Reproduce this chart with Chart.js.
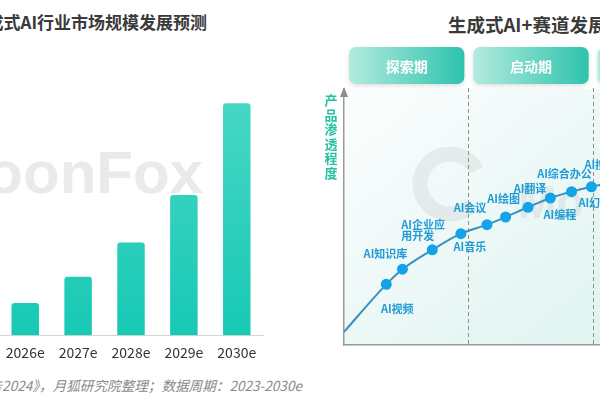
<!DOCTYPE html>
<html>
<head>
<meta charset="utf-8">
<script src="https://cdn.jsdelivr.net/npm/chart.js@4.4.1/dist/chart.umd.min.js"></script>
<style>
  html, body { margin: 0; padding: 0; background: #fff; }
  #page { position: relative; width: 600px; height: 400px; overflow: hidden;
    font-family: "Noto Sans CJK SC", "Noto Sans", sans-serif; }
  .title { position: absolute; white-space: nowrap; font-weight: bold;
    line-height: 22px; color: #3a3a3a; }
  #leftTitle { right: 393px; top: 11px; font-size: 17px; }
  #rightTitle { left: 448px; top: 13px; font-size: 18.5px; }
  #source { position: absolute; right: 298px; top: 376px; white-space: nowrap;
    font-size: 13.6px; line-height: 18px; font-style: italic; color: #8a8a8a; }
  #mark { position: absolute; right: 397px; top: 143px; font: bold 60px/60px "Liberation Sans", sans-serif;
    color: #eaeaea; white-space: nowrap; }
  canvas { position: absolute; }
  #barChart { left: -3px; top: 80px; }
  #trackChart { left: 300px; top: 0; }
</style>
</head>
<body>
<div id="page">
  <div id="leftTitle" class="title">生成式AI行业市场规模发展预测</div>
  <div id="rightTitle" class="title">生成式AI+赛道发展阶段</div>
  <div id="mark">MoonFox</div>
  <canvas id="barChart" width="268" height="290"></canvas>
  <canvas id="trackChart" width="450" height="360"></canvas>
  <div id="source">来源：《中国生成式AI行业研究报告2024》，月狐研究院整理；数据周期：2023-2030e</div>
</div>
<script>
  // left: market size forecast (visible years only)
  const years = ['2026e', '2027e', '2028e', '2029e', '2030e']
  const marketSize = [139, 252, 400, 604, 1000]

  // right: track development curve
  const stages = ['探索期', '启动期', '成长期']
  const stageBounds = [1, 2]
  const progress = [0, 0.34, 0.47, 0.71, 0.94, 1.15, 1.30, 1.48, 1.66, 1.83, 1.99, 2.20]
  const penetration = [0.51, 2.37, 2.96, 3.72, 4.35, 4.70, 5.00, 5.38, 5.74, 5.99, 6.18, 6.38]
  const trackNames = ['AI视频', 'AI知识库', 'AI企业应\n用开发', 'AI音乐', 'AI会议', 'AI绘图',
    'AI翻译', 'AI编程', 'AI综合办公', 'AI幻灯片', 'AI搜索']
  const trackPoint = [1, 2, 3, 4, 5, 6, 7, 8, 9, 10, 10]

  const cjk = '"Noto Sans CJK SC", "Noto Sans", sans-serif'

  new Chart(document.getElementById('barChart'), {
    type: 'bar',
    data: {
      labels: years,
      datasets: [{
        data: marketSize,
        backgroundColor(c) {
          const area = c.chart.chartArea
          if (!area) return '#2bcfbb'
          const g = c.chart.ctx.createLinearGradient(0, area.top, 0, area.bottom)
          g.addColorStop(0, '#4bd8c6')
          g.addColorStop(1, '#17c9b5')
          return g
        },
        borderRadius: { topLeft: 3, topRight: 3 },
        borderSkipped: 'bottom',
        categoryPercentage: 1,
        barPercentage: 0.52
      }]
    },
    options: {
      responsive: false,
      animation: false,
      devicePixelRatio: 1,
      layout: { padding: 0 },
      plugins: { legend: { display: false }, tooltip: { enabled: false } },
      scales: {
        x: {
          grid: { display: false, drawTicks: false },
          border: { display: true, color: '#d4d4d4', width: 1 },
          ticks: { color: '#333', padding: 9, font: { family: cjk, size: 14 } }
        },
        y: { display: false, min: 0, max: 1100 }
      }
    }
  })

  // labels next to the points, offsets in px
  const labelPlace = [
    { dx: 11, dy: 24, align: 'center' },
    { dx: -17, dy: -15, align: 'center' },
    { dx: -31, dy: -25, align: 'left' },
    { dx: 9, dy: 13.5, align: 'center' },
    { dx: -17, dy: -17, align: 'center' },
    { dx: -2, dy: -18, align: 'center' },
    { dx: 2, dy: -18, align: 'center' },
    { dx: 9.5, dy: 16.5, align: 'center' },
    { dx: -7, dy: -18, align: 'center' },
    { dx: -13, dy: 16, align: 'left' },
    { dx: -7, dy: -22, align: 'left' }
  ]

  const stagePlugin = {
    id: 'stages',
    beforeDraw(chart) {
      const { ctx, chartArea: a, scales: { x } } = chart
      ctx.save()
      const bg = ctx.createLinearGradient(a.left, a.top, a.left + 260, a.bottom + 60)
      bg.addColorStop(0, '#fcfefe')
      bg.addColorStop(1, '#dbf2ee')
      ctx.fillStyle = bg
      ctx.fillRect(a.left, a.top, a.right - a.left, a.bottom - a.top)

      // faint watermark logo
      ctx.strokeStyle = 'rgba(160,160,160,0.16)'
      ctx.lineWidth = 15
      ctx.beginPath()
      ctx.arc(150, 184, 30, 0.25 * Math.PI, 1.85 * Math.PI)
      ctx.stroke()
      ctx.fillStyle = 'rgba(160,160,160,0.16)'
      ctx.font = 'bold 46px "Liberation Sans", sans-serif'
      ctx.textBaseline = 'alphabetic'
      ctx.fillText('Mo', 218, 218)

      // stage boxes above the plot
      stages.forEach((name, i) => {
        const x0 = x.getPixelForValue(i) + 5
        const x1 = x.getPixelForValue(i + 1) - 4
        const g = ctx.createLinearGradient(x0, 0, x1, 0)
        g.addColorStop(0, '#b3ebde')
        g.addColorStop(1, '#2dc3ad')
        ctx.shadowColor = 'rgba(0,0,0,0.12)'
        ctx.shadowBlur = 4
        ctx.shadowOffsetY = 2
        ctx.fillStyle = g
        ctx.beginPath()
        ctx.roundRect(x0, 47, x1 - x0, 37, 7)
        ctx.fill()
        ctx.shadowColor = 'transparent'
        ctx.fillStyle = '#fff'
        ctx.font = 'bold 14px ' + cjk
        ctx.textAlign = 'center'
        ctx.textBaseline = 'middle'
        ctx.fillText(name, (x0 + x1) / 2, 67)
      })
      ctx.restore()
    },
    beforeDatasetsDraw(chart) {
      const { ctx, chartArea: a, scales: { x } } = chart
      ctx.save()
      ctx.strokeStyle = '#8f8f8f'
      ctx.lineWidth = 1
      ctx.setLineDash([4, 3])
      stageBounds.forEach(v => {
        const px = Math.round(x.getPixelForValue(v)) + 0.5
        ctx.beginPath()
        ctx.moveTo(px, 88)
        ctx.lineTo(px, a.bottom)
        ctx.stroke()
      })
      ctx.restore()
    },
    afterDatasetsDraw(chart) {
      const { ctx, chartArea: a } = chart
      const pts = chart.getDatasetMeta(0).data
      ctx.save()
      // axis arrow
      ctx.fillStyle = '#8c8c8c'
      ctx.beginPath()
      ctx.moveTo(a.left, a.top - 2)
      ctx.lineTo(a.left - 4, a.top + 8)
      ctx.lineTo(a.left + 4, a.top + 8)
      ctx.closePath()
      ctx.fill()

      // y axis title, one character per line
      ctx.fillStyle = '#27c1a6'
      ctx.font = 'bold 13px ' + cjk
      ctx.textAlign = 'center'
      ctx.textBaseline = 'middle'
      Array.from('产品渗透程度').forEach((ch, i) => ctx.fillText(ch, 31, 100 + i * 14.6))

      // track labels
      ctx.fillStyle = '#1f9bd6'
      ctx.font = 'bold 11px ' + cjk
      trackNames.forEach((name, i) => {
        const p = pts[trackPoint[i]]
        const pl = labelPlace[i]
        ctx.textAlign = pl.align
        name.split('\n').forEach((line, j) => {
          ctx.fillText(line, p.x + pl.dx, p.y + pl.dy + j * 11.5)
        })
      })
      ctx.restore()
    }
  }

  new Chart(document.getElementById('trackChart'), {
    type: 'line',
    data: {
      datasets: [{
        data: progress.map((v, i) => ({ x: v, y: penetration[i] })),
        borderColor: '#3b8fbf',
        borderWidth: 2,
        cubicInterpolationMode: 'monotone',
        pointBackgroundColor: '#14a2e8',
        pointBorderWidth: 0,
        pointRadius: progress.map((v, i) => (i === 0 ? 0 : 5.5))
      }]
    },
    options: {
      responsive: false,
      animation: false,
      devicePixelRatio: 1,
      layout: { padding: { left: 44, top: 89, bottom: 15, right: 33 } },
      plugins: { legend: { display: false }, tooltip: { enabled: false } },
      scales: {
        x: {
          type: 'linear', min: 0, max: 3,
          grid: { display: false, drawTicks: false },
          ticks: { display: false },
          border: { color: '#999', width: 1.5 }
        },
        y: {
          min: 0, max: 10,
          grid: { display: false, drawTicks: false },
          ticks: { display: false },
          border: { color: '#999', width: 1.5 }
        }
      }
    },
    plugins: [stagePlugin]
  })
</script>
</body>
</html>
